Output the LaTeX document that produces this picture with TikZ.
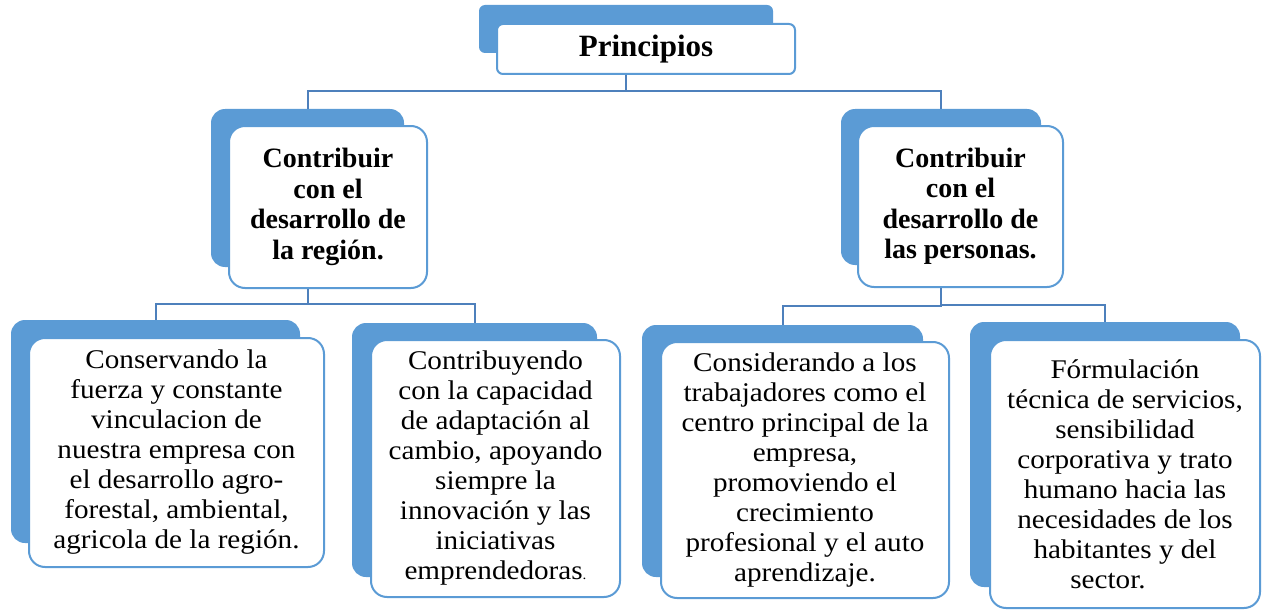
\documentclass[tikz,border=0pt]{standalone}
\usepackage{fontspec}
\setmainfont{Liberation Serif}
\newfontfamily\bodyfont{Liberation Serif}[FakeStretch=1.08]
\definecolor{boxblue}{RGB}{91,155,213}
\definecolor{lineblue}{RGB}{78,128,188}
\begin{document}
\begin{tikzpicture}[x=1pt,y=-1pt,
 back/.style={rectangle, fill=boxblue, draw=none, rounded corners=14pt, inner sep=0pt},
 front/.style={rectangle, fill=white, draw=boxblue, line width=2pt, rounded corners=16pt, inner sep=0pt, align=center, font=\bodyfont\fontsize{27}{30}\selectfont},
 bold/.style={font=\bfseries\fontsize{28}{30.5}\selectfont},
 conn/.style={draw=lineblue, line width=2pt}]
\useasboundingbox (0,0) rectangle (1262,610);
% Principios
\node[back, rounded corners=6pt, minimum width=294pt, minimum height=48pt] (pb) at (626,29) {};
\node[front, rounded corners=6pt, minimum width=298pt, minimum height=50pt, font=\bfseries\fontsize{31}{34}\selectfont] (pf) at (646,49) {Principios};
% level 2
\node[back, minimum width=193pt, minimum height=158pt] (rb) at (307.5,188) {};
\node[front, bold, minimum width=198pt, minimum height=162pt] (rf) at (328,207) {Contribuir\\con el\\desarrollo de\\la región.};
\node[back, minimum width=200pt, minimum height=156pt] (sb) at (941,187) {};
\node[front, bold, minimum width=205pt, minimum height=161pt] (sf) at (960.5,206.5) {Contribuir\\con el\\desarrollo de\\las personas.};
% level 3
\node[back, minimum width=289pt, minimum height=223pt] (b1b) at (155.5,431.5) {};
\node[front, minimum width=295pt, minimum height=229pt] (b1f) at (176.5,452.5) {Conservando la\\fuerza y constante\\vinculacion de\\nuestra empresa con\\el desarrollo agro-\\forestal, ambiental,\\agricola de la región.};
\node[back, minimum width=245pt, minimum height=254pt] (b2b) at (474.5,450) {};
\node[front, minimum width=249pt, minimum height=257pt] (b2f) at (495.5,468.5) {Contribuyendo\\con la capacidad\\de adaptación al\\cambio, apoyando\\siempre la\\innovación y las\\iniciativas\\emprendedoras{\fontsize{14}{14}\selectfont.}};
\node[back, minimum width=281pt, minimum height=252pt] (b3b) at (782.5,451) {};
\node[front, minimum width=288pt, minimum height=256pt] (b3f) at (805,470) {Considerando a los\\trabajadores como el\\centro principal de la\\empresa,\\promoviendo el\\crecimiento\\profesional y el auto\\aprendizaje.};
\node[back, minimum width=270pt, minimum height=265pt] (b4b) at (1105,454.5) {};
\node[front, minimum width=270pt, minimum height=268pt] (b4f) at (1125,474) {Fórmulación\\técnica de servicios,\\sensibilidad\\corporativa y trato\\humano hacia las\\necesidades de los\\habitantes y del\\sector.\hspace*{34pt}};
% connectors
\draw[conn] (pb.center |- pf.south) -- ++(0,16) -| (rb.north);
\draw[conn] (pb.center |- pf.south) -- ++(0,16) -| (sb.north);
\draw[conn] (rb.center |- rf.south) -- ++(0,15) -| (b1b.north);
\draw[conn] (rb.center |- rf.south) -- ++(0,15) -| (b2b.north);
\draw[conn] (sb.center |- sf.south) -- ++(0,18) -| (b3b.north);
\draw[conn] (sb.center |- sf.south) -- ++(0,17) -| (b4b.north);
\end{tikzpicture}
\end{document}
